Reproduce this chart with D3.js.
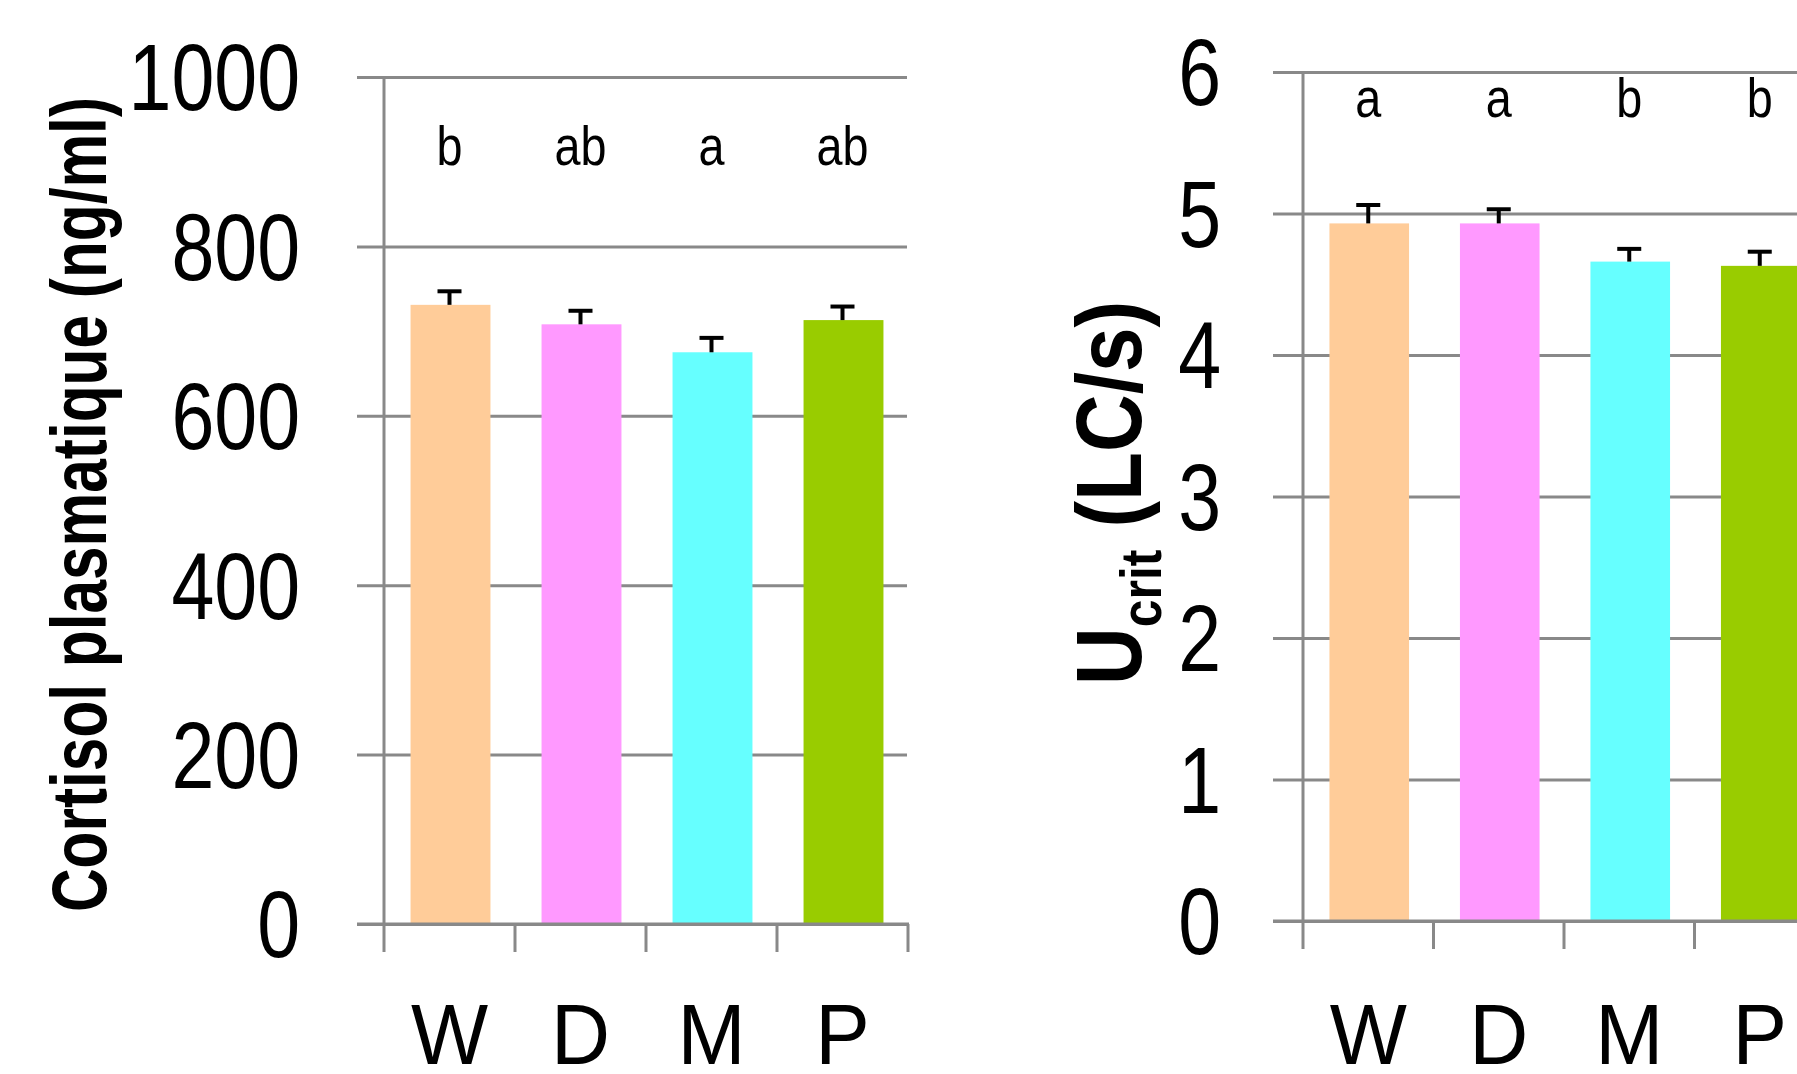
<!DOCTYPE html>
<html>
<head>
    <meta charset="utf-8">
    <title>Cortisol / Ucrit</title>
    <script src="https://d3js.org/d3.v7.min.js"></script>
    <style>
        body { margin: 0; background: #ffffff; }
        svg { display: block; }
        text { font-family: "Liberation Sans", Arial, sans-serif; fill: #000; }
        .grid line { stroke: #898989; stroke-width: 3; }
        .grid path { display: none; }
    </style>
</head>
<body>
<svg id="chart"></svg>
<script>
    // groups
    const groups = ["W", "D", "M", "P"];
    const barColors = ["#FFCC99", "#FF99FF", "#66FFFF", "#99CC00"];

    // cortisol plasmatique (ng/ml)
    const cortisolMean = [731, 708, 675, 713];
    const cortisolSem = [16, 16, 17, 16];
    const cortisolLetters = ["b", "ab", "a", "ab"];
    const cortisolTicks = [0, 200, 400, 600, 800, 1000];

    // Ucrit (LC/s)
    const ucritMean = [4.93, 4.93, 4.66, 4.63];
    const ucritSem = [0.13, 0.10, 0.09, 0.10];
    const ucritLetters = ["a", "a", "b", "b"];
    const ucritTicks = [0, 1, 2, 3, 4, 5, 6];

    const W = 1797, H = 1074;
    const NARROW = 0.82; // no Arial Narrow here, squeeze Liberation Sans instead
    const svg = d3.select("#chart").attr("width", W).attr("height", H);

    function narrow(sel, f) {
        sel.each(function () {
            const len = this.getComputedTextLength();
            d3.select(this).attr("textLength", len * (f || NARROW)).attr("lengthAdjust", "spacingAndGlyphs");
        });
    }

    function panel(opt) {
        const g = svg.append("g");
        const x = d3.scaleBand().domain(groups).range([opt.x0, opt.x0 + opt.step * groups.length]);
        const y = d3.scaleLinear().domain([0, opt.max]).range([opt.y0, opt.y1]);
        const bw = x.bandwidth() * 0.61;

        // horizontal gridlines + tick labels
        g.append("g")
            .attr("class", "grid")
            .attr("transform", "translate(" + opt.gridStart + ",0)")
            .call(d3.axisLeft(y).tickValues(opt.ticks).tickFormat(d3.format("d"))
                .tickSizeInner(-(opt.gridEnd - opt.gridStart)).tickSizeOuter(0).tickPadding(opt.labelPad))
            .call(a => a.selectAll("text")
                .style("font-size", "94px")
                .attr("dy", "0.35em")
                .call(narrow));

        // vertical axis
        g.append("line")
            .attr("x1", opt.x0).attr("x2", opt.x0)
            .attr("y1", y(opt.max)).attr("y2", opt.y0 + 28)
            .attr("stroke", "#898989").attr("stroke-width", 3);

        // category ticks
        const edges = groups.map(c => x(c)).concat([x.range()[1]]);
        g.selectAll(".ctick").data(edges.slice(1)).enter().append("line")
            .attr("x1", d => d).attr("x2", d => d)
            .attr("y1", opt.y0).attr("y2", opt.y0 + 28)
            .attr("stroke", "#898989").attr("stroke-width", 3);

        // bars
        g.selectAll(".bar").data(opt.mean).enter().append("rect")
            .attr("x", (d, i) => x(groups[i]) + (x.bandwidth() - bw) / 2 + 1)
            .attr("y", d => y(d))
            .attr("width", bw)
            .attr("height", d => opt.y0 - y(d))
            .attr("fill", (d, i) => barColors[i]);

        // baseline drawn over bars
        g.append("line")
            .attr("x1", opt.gridStart).attr("x2", Math.min(opt.gridEnd + 2, W + 10))
            .attr("y1", opt.y0).attr("y2", opt.y0)
            .attr("stroke", "#898989").attr("stroke-width", 3);

        // error bars (upper only)
        const cx = i => x(groups[i]) + x.bandwidth() / 2;
        opt.mean.forEach((m, i) => {
            const top = y(m + opt.sem[i]);
            g.append("line")
                .attr("x1", cx(i)).attr("x2", cx(i))
                .attr("y1", y(m)).attr("y2", top)
                .attr("stroke", "#000").attr("stroke-width", 4);
            g.append("line")
                .attr("x1", cx(i) - 12).attr("x2", cx(i) + 12)
                .attr("y1", top).attr("y2", top)
                .attr("stroke", "#000").attr("stroke-width", 4);
        });

        // significance letters
        g.selectAll(".letter").data(opt.letters).enter().append("text")
            .attr("x", (d, i) => cx(i))
            .attr("y", opt.letterY)
            .attr("text-anchor", "middle")
            .style("font-size", "55px")
            .text(d => d)
            .call(narrow, 0.85);

        // category labels
        g.selectAll(".cat").data(groups).enter().append("text")
            .attr("x", d => x(d) + x.bandwidth() / 2)
            .attr("y", 1064)
            .attr("text-anchor", "middle")
            .style("font-size", "86px")
            .text(d => d)
            .call(narrow, 0.95);

        return g;
    }

    panel({
        x0: 384, step: 131, y0: 924, y1: 77, max: 1000,
        gridStart: 357, gridEnd: 907, labelPad: 57,
        ticks: cortisolTicks, mean: cortisolMean, sem: cortisolSem,
        letters: cortisolLetters, letterY: 165
    });

    panel({
        x0: 1303, step: 130.5, y0: 921, y1: 72, max: 6,
        gridStart: 1273, gridEnd: 1830, labelPad: 52,
        ticks: ucritTicks, mean: ucritMean, sem: ucritSem,
        letters: ucritLetters, letterY: 117
    });

    // y titles
    svg.append("text")
        .attr("transform", "translate(106,912) rotate(-90)")
        .attr("text-anchor", "start")
        .attr("textLength", 815)
        .attr("lengthAdjust", "spacingAndGlyphs")
        .style("font-size", "78px")
        .style("font-weight", "bold")
        .text("Cortisol plasmatique (ng/ml)");

    const t2 = svg.append("text")
        .attr("transform", "translate(1141,685) rotate(-90) scale(0.86,1)")
        .attr("text-anchor", "start")
        .style("font-size", "93px")
        .style("font-weight", "bold");
    t2.append("tspan").text("U");
    t2.append("tspan").attr("dy", 20).style("font-size", "58px").text("crit");
    t2.append("tspan").attr("dy", -20).text(" (LC/s)");
</script>
</body>
</html>
